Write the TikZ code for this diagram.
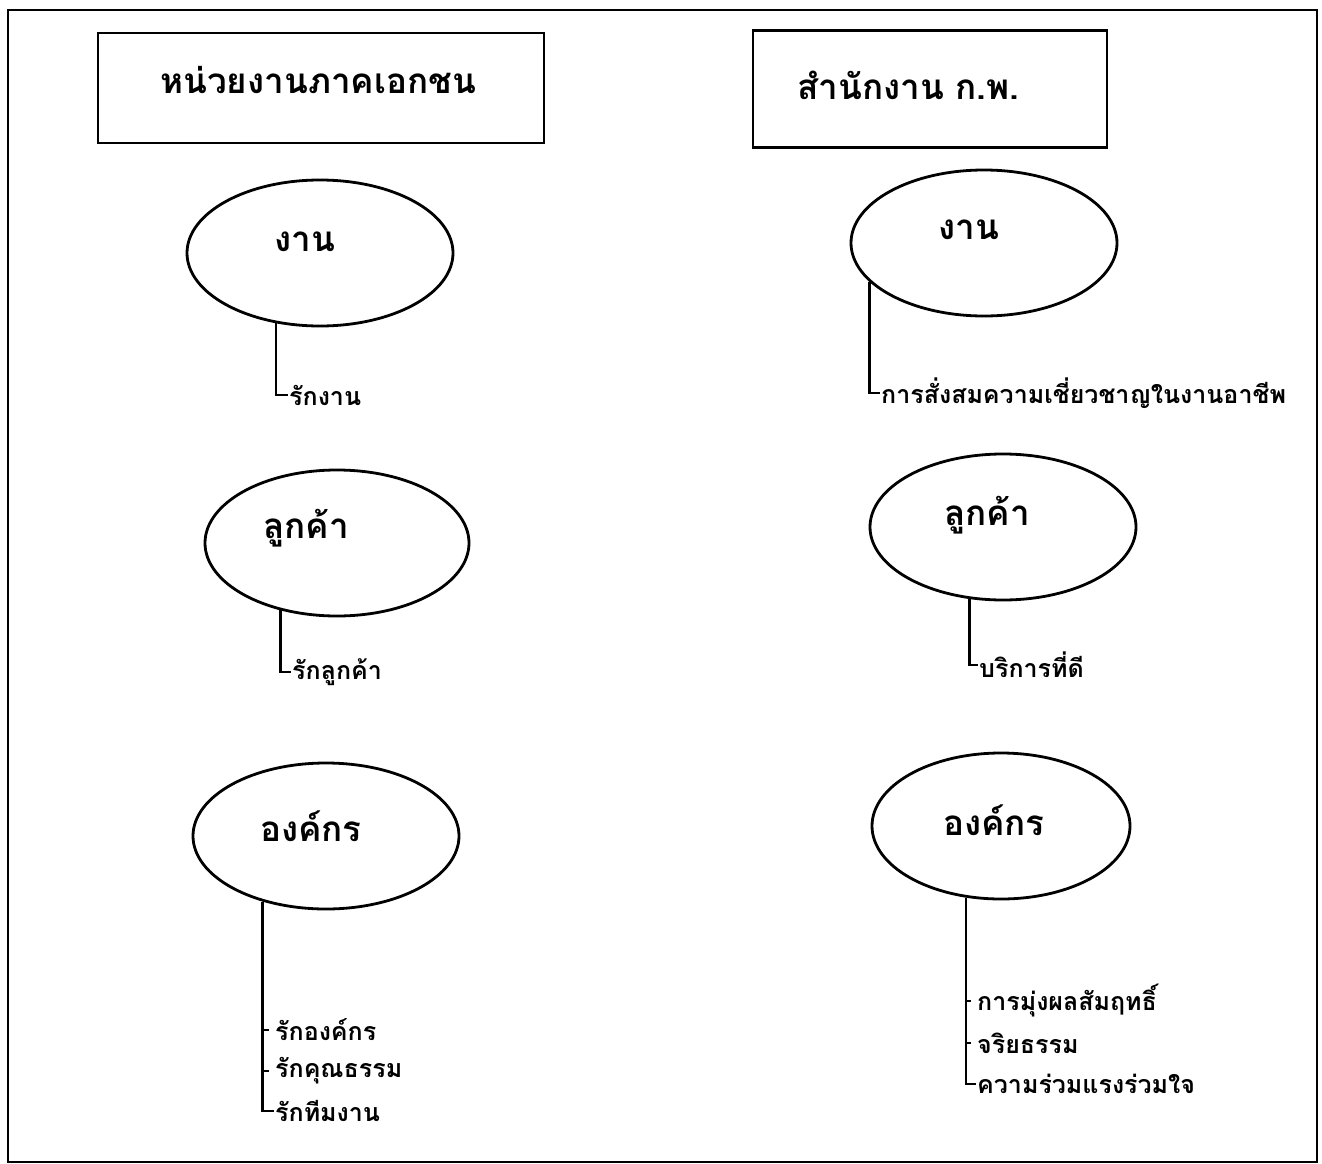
\documentclass[tikz,border=0pt]{standalone}
\usepackage{fontspec}
\newfontfamily\thai[Script=Thai]{Loma}
\usepackage{tikz}
\usetikzlibrary{positioning,shapes.geometric,calc}
\tikzset{
  frame/.style={draw,line width=2.4pt},
  title/.style={draw,line width=2.4pt,minimum height=110pt,inner sep=0pt},
  titletext/.style={font=\thai\bfseries\fontsize{35}{42}\selectfont,anchor=west,inner sep=0pt},
  oval/.style={draw,ellipse,line width=2.8pt,minimum width=266pt,minimum height=146pt,inner sep=0pt},
  head/.style={font=\thai\bfseries\fontsize{35}{42}\selectfont,inner sep=0pt},
  item/.style={font=\thai\bfseries\fontsize{25}{30}\selectfont,anchor=west,inner sep=1pt},
  stem/.style={line width=2.8pt},
  tick/.style={line width=2.8pt,shorten >=5pt},
}

\begin{document}
\begin{tikzpicture}[x=1pt,y=-1pt]
\useasboundingbox (0,0) rectangle (1322,1164);
\draw[frame] (8,10) rectangle (1317,1162);
% headings
\node[title, minimum width=446pt] (prv) at (321,88) {};
\node[titletext] (prvt) at (160,80) {หน่วยงานภาคเอกชน};
\node[title, minimum width=354pt, minimum height=117pt] (ocs) at (930,89) {};
\node[titletext] (ocst) at (797,85) {สำนักงาน ก.พ.};
% left column
\node[oval] (wL) at (320,253) {};
\node[head] (wLt) at (305,242) {งาน};
\node[item] (wLa) at (288,395) {รักงาน};
\draw[stem] (wL.238) |- (wLa.west);
\node[oval, minimum width=264pt] (cL) at (337,543) {};
\node[head] (cLt) at (306,528) {ลูกค้า};
\node[item] (cLa) at (291,672) {รักลูกค้า};
\draw[stem] (cL.230) |- (cLa.west);
\node[oval] (oL) at (326,836) {};
\node[head] (oLt) at (311,826) {องค์กร};
\node[item] (oLa) at (274,1030) {รักองค์กร};
\node[item] (oLb) at (274,1071) {รักคุณธรรม};
\node[item] (oLc) at (274,1111) {รักทีมงาน};
\draw[stem] (oL.226) |- (oLc.west);
\draw[tick] (oLa.west -| oL.226) -- (oLa.west);
\draw[tick] (oLb.west -| oL.226) -- (oLb.west);
% right column
\node[oval] (wR) at (984,243) {};
\node[head] (wRt) at (969,230) {งาน};
\node[item] (wRa) at (880,393) {การสั่งสมความเชี่ยวชาญในงานอาชีพ};
\draw[stem] (wR.199) |- (wRa.west);
\node[oval] (cR) at (1003,527) {};
\node[head] (cRt) at (987,515) {ลูกค้า};
\node[item] (cRa) at (978,665) {บริการที่ดี};
\draw[stem] (cR.245) |- (cRa.west);
\node[oval, minimum width=258pt] (oR) at (1001,826) {};
\node[head] (oRt) at (994,820) {องค์กร};
\node[item] (oRa) at (976,1001) {การมุ่งผลสัมฤทธิ์};
\node[item] (oRb) at (976,1043) {จริยธรรม};
\node[item] (oRc) at (976,1084) {ความร่วมแรงร่วมใจ};
\draw[stem] (oR.244) |- (oRc.west);
\draw[tick] (oRa.west -| oR.244) -- (oRa.west);
\draw[tick] (oRb.west -| oR.244) -- (oRb.west);
\end{tikzpicture}
\end{document}
